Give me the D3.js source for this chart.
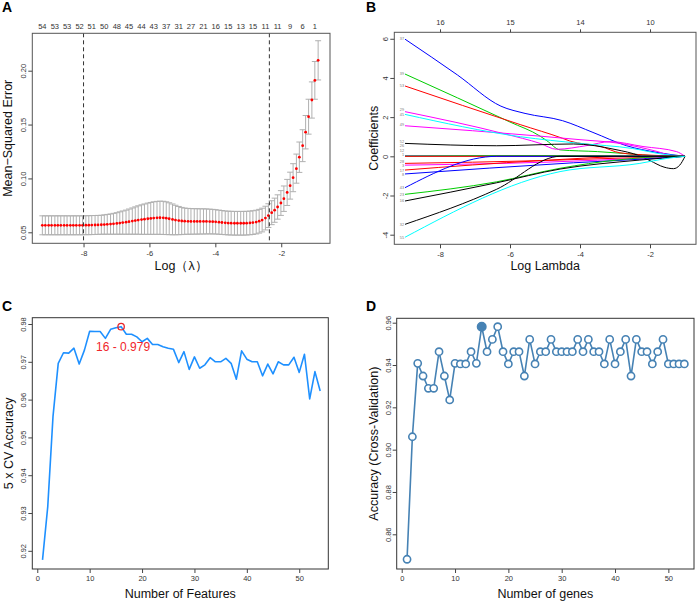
<!DOCTYPE html>
<html><head><meta charset="utf-8">
<script src="https://cdn.jsdelivr.net/npm/d3@7"></script>
<style>body{margin:0;background:#fff;} text{font-family:"Liberation Sans",Arial,sans-serif;}</style>
</head><body><svg id="c" width="697" height="601"></svg>
<script>
// ---------- Panel A data (cv.glmnet) ----------
const logLambda = [-9.25,-9.16,-9.06,-8.97,-8.87,-8.78,-8.69,-8.59,-8.50,-8.40,
 -8.31,-8.22,-8.12,-8.03,-7.93,-7.84,-7.75,-7.65,-7.56,-7.46,
 -7.37,-7.28,-7.18,-7.09,-6.99,-6.90,-6.81,-6.71,-6.62,-6.52,
 -6.43,-6.34,-6.24,-6.15,-6.05,-5.96,-5.87,-5.77,-5.68,-5.58,
 -5.49,-5.40,-5.30,-5.21,-5.11,-5.02,-4.93,-4.83,-4.74,-4.64,
 -4.55,-4.46,-4.36,-4.27,-4.17,-4.08,-3.99,-3.89,-3.80,-3.70,
 -3.61,-3.52,-3.42,-3.33,-3.23,-3.14,-3.05,-2.95,-2.86,-2.76,
 -2.67,-2.58,-2.48,-2.39,-2.29,-2.20,-2.11,-2.01,-1.92,-1.82,
 -1.73,-1.64,-1.54,-1.45,-1.35,-1.26,-1.17,-1.07,-0.98,-0.88];
const cvMean = [0.0565,0.0565,0.0565,0.0565,0.0565,0.0565,0.0565,0.0565,0.0565,0.0565,
 0.0565,0.0565,0.0565,0.0565,0.0566,0.0566,0.0567,0.0568,0.0569,0.0570,
 0.0572,0.0574,0.0576,0.0579,0.0582,0.0586,0.0590,0.0594,0.0599,0.0604,
 0.0609,0.0614,0.0618,0.0622,0.0626,0.0629,0.0632,0.0634,0.0635,0.0634,
 0.0631,0.0626,0.0620,0.0614,0.0609,0.0605,0.0603,0.0602,0.0601,0.0601,
 0.0601,0.0601,0.0601,0.0601,0.0600,0.0599,0.0597,0.0594,0.0591,0.0588,
 0.0586,0.0585,0.0584,0.0584,0.0584,0.0584,0.0585,0.0587,0.0590,0.0595,
 0.0603,0.0614,0.0632,0.0655,0.0682,0.0705,0.0735,0.0772,0.0812,0.0870,
 0.0933,0.1007,0.1091,0.1197,0.1304,0.1429,0.1573,0.1728,0.1910,0.2096];
const cvSE = [0.0088,0.0088,0.0088,0.0088,0.0088,0.0088,0.0088,0.0088,0.0088,0.0088,
 0.0088,0.0088,0.0088,0.0088,0.0088,0.0088,0.0088,0.0088,0.0088,0.0088,
 0.0090,0.0092,0.0094,0.0097,0.0100,0.0104,0.0108,0.0112,0.0117,0.0122,
 0.0127,0.0132,0.0137,0.0141,0.0145,0.0148,0.0151,0.0153,0.0154,0.0154,
 0.0152,0.0148,0.0143,0.0137,0.0131,0.0126,0.0122,0.0120,0.0119,0.0118,
 0.0118,0.0117,0.0117,0.0116,0.0115,0.0114,0.0113,0.0112,0.0111,0.0110,
 0.0110,0.0110,0.0110,0.0110,0.0110,0.0110,0.0110,0.0110,0.0110,0.0110,
 0.0110,0.0110,0.0110,0.0110,0.0111,0.0112,0.0113,0.0115,0.0118,0.0121,
 0.0125,0.0130,0.0135,0.0141,0.0148,0.0155,0.0162,0.0168,0.0175,0.0182];
const nzeroLabels = ["54","53","53","52","51","50","48","45","44","43","37","31","27","21","16","15","13","15","11","11","9","6","1"];
const lambdaMin = -8.0, lambda1se = -2.36;
const aXTicks = [-8,-6,-4,-2];
const aYTicks = [0.05,0.10,0.15,0.20];

// ---------- Panel B data (coefficient paths) ----------
const coefLabels = ["37","39","53","29","49","45","52","26","12","1","28","3","17","8","43","23","16","32","55"];
const coefLabelVals = [5.98,4.2,3.59,2.38,1.6,2.12,0.74,0.52,0.30,0.08,-0.28,-0.5,-0.72,-0.94,-1.6,-1.94,-2.28,-3.47,-4.13];
const coefPaths = [
 [[-9,5.98],[-7.5,4.15],[-6.26,2.56],[-5.57,2.19],[-4.5,1.82],[-3.63,1.22],[-2.67,0.54],[-1.8,0.2],[-1.0,0]],
 [[-9,4.2],[-6.0,1.75],[-5.14,1.03],[-4.95,0.8],[-4.57,0.33],[-3.5,0.24],[-2.76,0.15],[-1.6,0.01],[-1.0,0]],
 [[-9,3.59],[-5.71,1.62],[-4.5,0.92],[-4.29,0.78],[-3.4,0.5],[-2.86,0.18],[-2.0,0.06],[-1.0,0]],
 [[-9,2.28],[-6.14,1.14],[-5.14,0.66],[-4.67,0.36],[-3.8,0.55],[-3.14,0.75],[-2.2,0.5],[-1.24,0.24],[-1.0,0]],
 [[-9,1.56],[-5.14,1.03],[-4.0,0.85],[-2.86,0.66],[-1.8,0.25],[-1.33,0.02],[-1.0,0]],
 [[-9,2.14],[-5.7,1.0],[-4.0,0.66],[-2.5,0.4],[-1.6,0.1],[-1.0,0]],
 [[-9,0.66],[-6.38,0.54],[-4.19,0.63],[-3.0,0.35],[-2.29,0.02],[-2.0,-0.22],[-1.6,-0.55],[-1.33,-0.63],[-1.15,-0.45],[-1.0,0]],
 [[-9,0.02],[-5,0.02],[-1.0,0]],
 [[-9,0.01],[-5,0.04],[-1.0,0]],
 [[-9,0],[-5,0],[-1.0,0]],
 [[-9,-0.36],[-5.14,-0.22],[-3.0,-0.1],[-1.0,0]],
 [[-9,-0.45],[-5,-0.3],[-2,-0.08],[-1.0,0]],
 [[-9,-0.7],[-5.14,-0.22],[-2.29,0],[-1.0,0]],
 [[-9,-0.9],[-4.19,-0.33],[-1.81,-0.1],[-1.0,0]],
 [[-9,-1.6],[-6.38,0],[-1.0,0]],
 [[-9,-1.94],[-6.38,-1.3],[-4.57,-0.61],[-2.95,-0.19],[-1.3,0],[-1.0,0]],
 [[-9,-2.28],[-6.38,-1.35],[-4.57,-0.65],[-2.29,-0.19],[-1.0,0]],
 [[-9,-3.47],[-6.38,-1.68],[-4.57,0],[-1.0,0]],
 [[-9,-4.13],[-4.57,-0.78],[-2.29,-0.36],[-1.5,-0.1],[-1.0,0]]
];
const coefPalette = ["#0000FF","#00CD00","#FF0000","#FF00FF","#FF00FF","#00FFFF","#000000","#0000FF","#00CD00","#FF0000","#FF0000","#FF00FF","#FF0000","#0000FF","#0000FF","#00CD00","#000000","#000000","#00FFFF"];
const bXTicks = [-8,-6,-4,-2];
const bTopLabels = ["16","15","14","10"];
const bYTicks = [-4,-2,0,2,4,6];

// ---------- Panel C data (RFE accuracy) ----------
const cFeatures = d3.range(1,55);
const cAccuracy = [0.9176,0.9317,0.9555,0.9696,0.9724,0.9723,0.9736,0.9694,0.9731,0.9781,
 0.9780,0.9780,0.9762,0.9786,0.9790,0.9793,0.9773,0.9773,0.9766,0.9753,
 0.9762,0.9746,0.9746,0.9740,0.9736,0.9733,0.9698,0.9727,0.9680,0.9713,
 0.9683,0.9692,0.9711,0.9700,0.9700,0.9709,0.9696,0.9654,0.9729,0.9707,
 0.9700,0.9700,0.9663,0.9694,0.9668,0.9700,0.9692,0.9692,0.9712,0.9672,
 0.9720,0.9602,0.9674,0.9623];
const cBest = 16, cBestLabel = "16 - 0.979";
const cXTicks = [0,10,20,30,40,50];
const cYTicks = [0.92,0.93,0.94,0.95,0.96,0.97,0.98];

// ---------- Panel D data (genes accuracy) ----------
const dGenes = d3.range(1,54);
const dAccuracy = [0.8482,0.9061,0.9408,0.9348,0.9290,0.9290,0.9463,0.9348,0.9235,0.9408,
 0.9405,0.9405,0.9463,0.9408,0.9581,0.9463,0.9521,0.9581,0.9463,0.9405,
 0.9463,0.9463,0.9348,0.9521,0.9405,0.9463,0.9463,0.9521,0.9463,0.9463,
 0.9463,0.9463,0.9521,0.9463,0.9521,0.9463,0.9463,0.9405,0.9521,0.9405,
 0.9463,0.9521,0.9348,0.9521,0.9463,0.9463,0.9405,0.9463,0.9521,0.9405,
 0.9405,0.9405,0.9405];
const dBest = 15;
const dXTicks = [0,10,20,30,40,50];
const dYTicks = [0.86,0.88,0.90,0.92,0.94,0.96];

// ---------- drawing ----------
const svg = d3.select("#c");
svg.append("rect").attr("width",697).attr("height",601).attr("fill","#fff");
const TICKF = 7.5, TITLEF = 12.5, TXT = "#333";

function yAxisLeft(g, y, ticks, fmt){
  const a = g.call(d3.axisLeft(y).tickValues(ticks).tickSize(4).tickFormat(fmt));
  a.select(".domain").remove();
  a.selectAll(".tick line").attr("stroke","#444");
  a.selectAll(".tick text").attr("transform","rotate(-90)").attr("x",0).attr("y",-6).attr("dy",0)
    .attr("text-anchor","middle").attr("font-size",TICKF).attr("fill",TXT).attr("font-family","Liberation Sans, Arial, sans-serif");
}
function xAxisBottom(g, x, ticks, fmt){
  const a = g.call(d3.axisBottom(x).tickValues(ticks).tickSize(4).tickPadding(3).tickFormat(fmt));
  a.select(".domain").remove();
  a.selectAll(".tick line").attr("stroke","#444");
  a.selectAll(".tick text").attr("font-size",TICKF).attr("fill",TXT).attr("font-family","Liberation Sans, Arial, sans-serif");
}
function box(x0,y0,x1,y1,col){
  svg.append("rect").attr("x",x0).attr("y",y0).attr("width",x1-x0).attr("height",y1-y0)
    .attr("fill","none").attr("stroke",col).attr("stroke-width",1);
}
function title(x,y,txt,rot){
  const t = svg.append("text").attr("font-size",TITLEF).attr("fill","#111").attr("text-anchor","middle").text(txt);
  if(rot) t.attr("transform",`translate(${x},${y}) rotate(-90)`); else t.attr("x",x).attr("y",y);
}
function panelLabel(x,y,t){
  svg.append("text").attr("x",x).attr("y",y).attr("font-size",14).attr("font-weight","bold").attr("fill","#000").text(t);
}
const minusFmt = d => String(d);

// Panel A
{
  const L=32.3,R=330,T=33.3,B=243.3;
  const x = d3.scaleLinear().domain([-9.555,-0.52]).range([L,R]);
  const y = d3.scaleLinear().domain([0.0398,0.2347]).range([B,T]);
  const g = svg.append("g");
  const pts = logLambda.map((v,i)=>({x:v,m:cvMean[i],s:cvSE[i]}));
  const eb = g.append("g").attr("stroke","#B0B0B0").attr("stroke-width",1);
  pts.forEach(p=>{
    eb.append("line").attr("x1",x(p.x)).attr("x2",x(p.x)).attr("y1",y(p.m-p.s)).attr("y2",y(p.m+p.s));
    eb.append("line").attr("x1",x(p.x)-3).attr("x2",x(p.x)+3).attr("y1",y(p.m-p.s)).attr("y2",y(p.m-p.s));
    eb.append("line").attr("x1",x(p.x)-3).attr("x2",x(p.x)+3).attr("y1",y(p.m+p.s)).attr("y2",y(p.m+p.s));
  });
  g.append("g").selectAll("circle").data(pts).join("circle")
    .attr("cx",d=>x(d.x)).attr("cy",d=>y(d.m)).attr("r",1.4).attr("fill","#FF0000");
  [lambdaMin,lambda1se].forEach(v=>{
    g.append("line").attr("x1",x(v)).attr("x2",x(v)).attr("y1",T).attr("y2",B)
      .attr("stroke","#333").attr("stroke-width",1).attr("stroke-dasharray","4,3");
  });
  box(L,T,R,B,"#555");
  yAxisLeft(svg.append("g").attr("transform",`translate(${L},0)`), y, aYTicks, d3.format(".2f"));
  xAxisBottom(svg.append("g").attr("transform",`translate(0,${B})`), x, aXTicks, minusFmt);
  svg.append("g").selectAll("text").data(nzeroLabels).join("text")
    .attr("x",(d,i)=>x(logLambda[i*4])).attr("y",28.5).attr("text-anchor","middle")
    .attr("font-size",TICKF).attr("fill",TXT).text(d=>d);
  title((L+R)/2,270,"Log（λ）",false);
  title(12,(T+B)/2,"Mean−Squared Error",true);
  panelLabel(2,12,"A");
}

// Panel B
{
  const L=394.3,R=696,T=32.3,B=244.3;
  const x = d3.scaleLinear().domain([-9.306,-0.686]).range([L,R]);
  const y = d3.scaleLinear().domain([-4.49,6.33]).range([B,T]);
  const line = d3.line().x(d=>x(d[0])).y(d=>y(d[1])).curve(d3.curveMonotoneX);
  const g = svg.append("g");
  coefPaths.forEach((p,i)=>{
    g.append("path").attr("d",line(p)).attr("fill","none").attr("stroke",coefPalette[i]).attr("stroke-width",1);
  });
  g.append("g").selectAll("text").data(coefLabels).join("text")
    .attr("x",x(-9)-1).attr("y",(d,i)=>y(coefLabelVals[i])).attr("dy","0.35em")
    .attr("text-anchor","end").attr("font-size",3.8).attr("fill","#777").text(d=>d);
  box(L,T,R,B,"#555");
  yAxisLeft(svg.append("g").attr("transform",`translate(${L},0)`), y, bYTicks, minusFmt);
  xAxisBottom(svg.append("g").attr("transform",`translate(0,${B})`), x, bXTicks, minusFmt);
  const top = svg.append("g").attr("transform",`translate(0,${T})`)
    .call(d3.axisTop(x).tickValues(bXTicks).tickSize(3).tickPadding(4).tickFormat((d,i)=>bTopLabels[i]));
  top.select(".domain").remove();
  top.selectAll(".tick line").attr("stroke","#444");
  top.selectAll(".tick text").attr("font-size",TICKF).attr("fill",TXT).attr("font-family","Liberation Sans, Arial, sans-serif");
  title((L+R)/2,270,"Log Lambda",false);
  title(378,(T+B)/2,"Coefficients",true);
  panelLabel(366,12,"B");
}

// Panel C
{
  const L=32.3,R=328.3,T=317.7,B=569;
  const x = d3.scaleLinear().domain([-0.95,55.55]).range([L,R]);
  const y = d3.scaleLinear().domain([0.91519,0.98167]).range([B,T]);
  const pts = cFeatures.map((n,i)=>[n,cAccuracy[i]]);
  svg.append("path").attr("d",d3.line().x(d=>x(d[0])).y(d=>y(d[1]))(pts))
    .attr("fill","none").attr("stroke","#1E90FF").attr("stroke-width",1.6).attr("stroke-linejoin","round");
  const b = pts[cBest-1];
  svg.append("circle").attr("cx",x(b[0])).attr("cy",y(b[1])).attr("r",3.2)
    .attr("fill","none").attr("stroke","#E8262B").attr("stroke-width",1.3);
  svg.append("text").attr("x",x(b[0])+2).attr("y",y(b[1])+24).attr("text-anchor","middle")
    .attr("font-size",12).attr("fill","#F0262B").text(cBestLabel);
  box(L,T,R,B,"#333");
  yAxisLeft(svg.append("g").attr("transform",`translate(${L},0)`), y, cYTicks, d3.format(".2f"));
  xAxisBottom(svg.append("g").attr("transform",`translate(0,${B})`), x, cXTicks, minusFmt);
  title((L+R)/2,598,"Number of Features",false);
  title(13,(T+B)/2,"5 x CV Accuracy",true);
  panelLabel(2,311,"C");
}

// Panel D
{
  const L=396.7,R=694,T=318.3,B=569;
  const x = d3.scaleLinear().domain([-0.94,54.81]).range([L,R]);
  const y = d3.scaleLinear().domain([0.8436,0.96208]).range([B,T]);
  const pts = dGenes.map((n,i)=>[n,dAccuracy[i]]);
  const col = "#4682B4";
  svg.append("path").attr("d",d3.line().x(d=>x(d[0])).y(d=>y(d[1]))(pts))
    .attr("fill","none").attr("stroke",col).attr("stroke-width",1.6);
  svg.append("g").selectAll("circle").data(pts).join("circle")
    .attr("cx",d=>x(d[0])).attr("cy",d=>y(d[1])).attr("r",d=>d[0]===dBest?4.2:3.6)
    .attr("fill",d=>d[0]===dBest?col:"#fff").attr("stroke",col).attr("stroke-width",1.6);
  box(L,T,R,B,"#333");
  yAxisLeft(svg.append("g").attr("transform",`translate(${L},0)`), y, dYTicks, d3.format(".2f"));
  xAxisBottom(svg.append("g").attr("transform",`translate(0,${B})`), x, dXTicks, minusFmt);
  title((L+R)/2,598,"Number of genes",false);
  title(378,(T+B)/2,"Accuracy (Cross-Validation)",true);
  panelLabel(366,311,"D");
}
</script></body></html>
